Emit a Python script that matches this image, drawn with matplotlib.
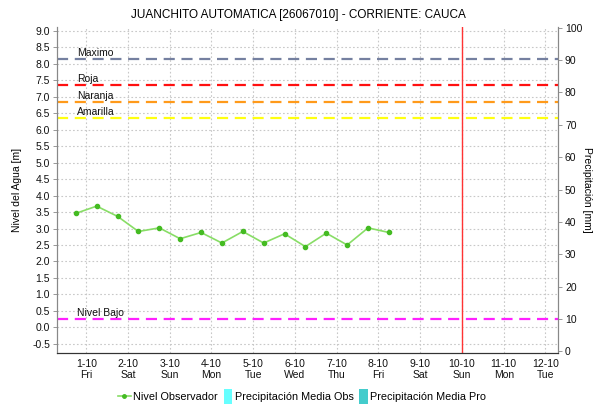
import matplotlib
matplotlib.use("Agg")
import matplotlib.pyplot as plt
from matplotlib.lines import Line2D
from matplotlib.patches import Patch, Rectangle
from matplotlib.legend_handler import HandlerPatch

# ---- data ----
title = "JUANCHITO AUTOMATICA [26067010] - CORRIENTE: CAUCA"
day_labels = ["1-10\nFri", "2-10\nSat", "3-10\nSun", "4-10\nMon", "5-10\nTue", "6-10\nWed",
              "7-10\nThu", "8-10\nFri", "9-10\nSat", "10-10\nSun", "11-10\nMon", "12-10\nTue"]
day_pos = [1, 2, 3, 4, 5, 6, 7, 8, 9, 10, 11, 12]
obs_time = [0.75, 1.25, 1.75, 2.25, 2.75, 3.25, 3.75, 4.25, 4.75, 5.25, 5.75, 6.25,
            6.75, 7.25, 7.75, 8.25]
obs_level = [3.46, 3.68, 3.37, 2.91, 3.02, 2.69, 2.88, 2.56, 2.91, 2.56, 2.84, 2.45,
             2.86, 2.50, 3.02, 2.88]
threshold_names = ["Maximo", "Roja", "Naranja", "Amarilla", "Nivel Bajo"]
threshold_values = [8.15, 7.36, 6.84, 6.36, 0.25]
threshold_colors = ["#7580a0", "#ff1010", "#ff9a1a", "#ffff10", "#ff20ff"]
now_day = 10
left_ticks = [-0.5, 0.0, 0.5, 1.0, 1.5, 2.0, 2.5, 3.0, 3.5, 4.0, 4.5, 5.0, 5.5, 6.0,
              6.5, 7.0, 7.5, 8.0, 8.5, 9.0]
right_ticks = [0, 10, 20, 30, 40, 50, 60, 70, 80, 90, 100]
legend_labels = ["Nivel Observador", "Precipitación Media Obs", "Precipitación Media Pro"]

plt.rcParams['font.family'] = ['Liberation Sans', 'DejaVu Sans']

fig = plt.figure(figsize=(5.95, 4.05), dpi=100)
ax = fig.add_axes([57/595, 1 - 353/405, (558-57)/595, (353-27)/405])
ax2 = ax.twinx()

ax.set_xlim(0.3, 12.3)
ax.set_ylim(-0.78, 9.12)
ax2.set_ylim(-0.5, 100.2)

# grid
ax.set_xticks(day_pos)
ax.set_xticklabels(day_labels, fontsize=7.5)
ax.set_yticks(left_ticks)
ax.set_yticklabels([f"{v:.1f}" for v in left_ticks], fontsize=7.5)
ax.grid(True, color="#c8c8c8", linestyle=(0, (1.5, 2)), linewidth=0.8)
ax2.set_yticks(right_ticks)
ax2.set_yticklabels([str(v) for v in right_ticks], fontsize=7.5)

for a in (ax, ax2):
    a.spines['top'].set_visible(False)
    a.spines['left'].set_color("#888888")
    a.spines['right'].set_color("#888888")
    a.spines['bottom'].set_color("#333333")
    a.spines['bottom'].set_linestyle((0, (1, 1)))
    a.tick_params(length=3, width=0.6, color="#888888", labelcolor="#111111", pad=2)
ax.tick_params(axis='x', length=0, pad=4)

# thresholds
for name, val, col in zip(threshold_names, threshold_values, threshold_colors):
    ax.axhline(val, color=col, linestyle=(0, (5, 3)), linewidth=1.6, zorder=2)
    ax.text(0.78, val + 0.04, name, fontsize=7.5, color="#111111", va="bottom", ha="left")

ax.axvline(now_day, color="#ff3333", linewidth=1.0, zorder=3)

ax.plot(obs_time, obs_level, color="#88dd66", linewidth=1.2, marker="o",
        markersize=3, markerfacecolor="#44bb22", markeredgecolor="#44bb22", zorder=4)

ax.set_ylabel("Nivel del Agua [m]", fontsize=7.5)
ax.yaxis.set_label_coords((22 - 57) / (558 - 57), 0.5)
ax2.set_ylabel("Precipitación [mm]", fontsize=7.5, rotation=-90, va="center")
ax2.yaxis.set_label_coords((587 - 57) / (558 - 57), 0.5)
fig.text(298/595, 1 - 15/405, title, ha="center", va="center", fontsize=8.5)


def narrow_patch(legend, orig_handle, xdescent, ydescent, width, height, fontsize):
    w = 6
    h = height * 1.5
    return Rectangle((width - w - xdescent, -ydescent - (h - height) / 2), w, h)


handles = [Line2D([0], [0], color="#88dd66", marker="o", markersize=2.5,
                  markerfacecolor="#44bb22", markeredgecolor="#44bb22", linewidth=1.2),
           Patch(facecolor="#66ffff", edgecolor="none"),
           Patch(facecolor="#44cccc", edgecolor="none")]
fig.legend(handles, legend_labels,
           loc="center", bbox_to_anchor=(302/595, 1 - 397/405), ncol=3, frameon=False,
           fontsize=7.8, handlelength=1.2, handleheight=1.0, handletextpad=0.25,
           columnspacing=0.1,
           handler_map={Patch: HandlerPatch(patch_func=narrow_patch)})

fig.savefig("out.png", dpi=100)
